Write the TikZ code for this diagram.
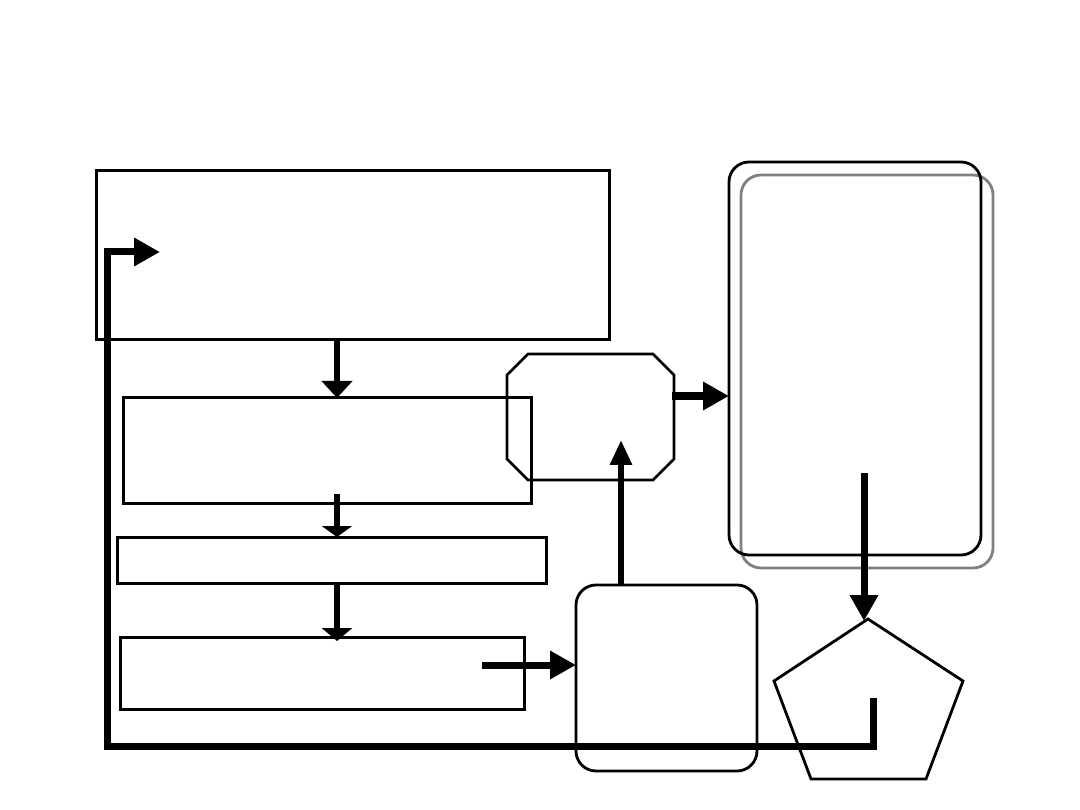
\documentclass[tikz,border=0pt]{standalone}
\usetikzlibrary{arrows.meta}
\definecolor{shadowgray}{RGB}{128,128,128}
\begin{document}
\begin{tikzpicture}[x=1pt,y=-1pt,
  box/.style={draw,line width=3pt,inner sep=0pt,outer sep=0pt},
  rbox/.style={box,line width=2.8pt,rounded corners=20pt},
  outline/.style={draw,line width=2.8pt,line join=miter},
  flowbig/.style={line width=7pt,-{Triangle[length=26pt,width=27pt]}},
  flowup/.style={line width=6pt,-{Triangle[length=25pt,width=21pt]}},
]
\useasboundingbox[fill=white] (0,0) rectangle (1080,810);

% left column of boxes
\node[box,minimum width=513pt,minimum height=169pt] (top) at (352.5,255.5) {};
\node[box,minimum width=408pt,minimum height=105pt] (b2) at (327,450.5) {};
\node[box,minimum width=429pt,minimum height=46pt] (b3) at (331.5,560) {};
\node[box,minimum width=404pt,minimum height=72pt] (b4) at (322,673) {};

% octagon
\coordinate (oct) at (590.5,417);
\draw[outline] (528,354) -- (653,354) -- (674,375) -- (674,459) -- (653,480)
  -- (528,480) -- (507,459) -- (507,375) -- cycle;

% right stacked rounded boxes
\node[rbox,draw=shadowgray,minimum width=252pt,minimum height=393pt] (rgray) at (867,371.5) {};
\node[rbox,minimum width=252pt,minimum height=393pt] (rblack) at (855,358.5) {};

% bottom middle rounded box
\node[rbox,minimum width=181pt,minimum height=186pt] (mid) at (666.5,678) {};

% pentagon
\coordinate (ptop) at (868,619);
\coordinate (pright) at (963,681);
\coordinate (pbr) at (926,779);
\coordinate (pbl) at (811,779);
\coordinate (pleft) at (774,681);
\draw[outline] (ptop) -- (pright) -- (pbr) -- (pbl) -- (pleft) -- cycle;

% helper coordinates
\coordinate (ax) at (337,0);
\coordinate (b2in) at (337,494);
\coordinate (b3tip) at (337,641);
\coordinate (b4in) at (482,665);
\coordinate (midw) at (576,665);
\coordinate (octin) at (621,440);
\coordinate (octe) at (672,396);
\coordinate (rbw) at (729,396);
\coordinate (rbin) at (864,473);
\coordinate (gtip) at (864,621);
\coordinate (pin) at (873,698);
\coordinate (loopc) at (873,746);
\coordinate (loopl) at (107,746);
\coordinate (loopu) at (107,252);
\coordinate (looptip) at (160,252);

% connectors
\draw[line width=6pt,-{Triangle[length=17pt,width=30pt]}] (top.south -| ax) -- (b2.north -| ax);
\draw[line width=6pt,-{Triangle[length=11pt,width=30pt]}] (b2in) -- (b3.north -| ax);
\draw[line width=6pt,-{Triangle[length=13pt,width=30pt]}] (b3.south -| ax) -- (b3tip);
\draw[flowbig] (b4in) -- (midw);
\draw[flowup] (mid.north -| octin) -- (octin);
\draw[line width=8pt,-{Triangle[length=26pt,width=27pt]}] (octe) -- (rbw);
\draw[flowbig] (rbin) -- (gtip);
\draw[flowbig,line join=miter] (pin) -- (loopc) -- (loopl) -- (loopu) -- (looptip);
\end{tikzpicture}
\end{document}
